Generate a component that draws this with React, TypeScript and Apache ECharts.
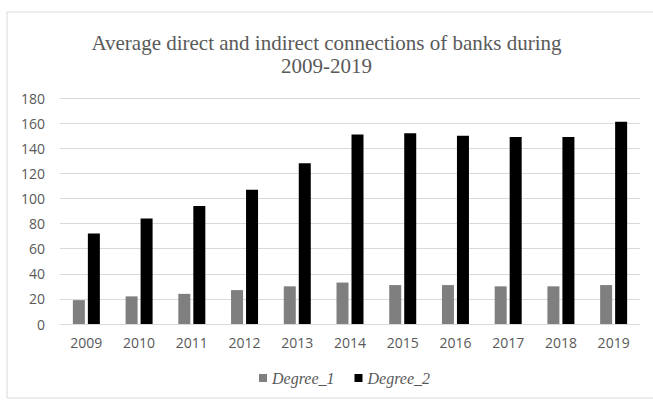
import React, { useEffect, useRef } from "react";
import * as echarts from "echarts";

const years = ["2009", "2010", "2011", "2012", "2013", "2014", "2015", "2016", "2017", "2018", "2019"];
const degree1 = [19, 22, 24, 27, 30, 33, 31, 31, 30, 30, 31];
const degree2 = [72, 84, 94, 107, 128, 151, 152, 150, 149, 149, 161];
const titleText = "Average direct and indirect connections of banks during\n2009-2019";

export default function App() {
  const ref = useRef<HTMLDivElement>(null);
  useEffect(() => {
    if (!ref.current) return;
    const chart = echarts.init(ref.current, null, { renderer: "svg" });
    const axisText = { color: "#595959", fontSize: 14, fontFamily: "Open Sans" };
    chart.setOption({
      animation: false,
      backgroundColor: "#ffffff",
      title: {
        text: titleText,
        left: "center",
        top: 26,
        textStyle: {
          fontFamily: "Liberation Serif",
          fontWeight: "normal",
          fontSize: 21,
          color: "#595959",
          lineHeight: 23,
        },
      },
      graphic: [
        {
          type: "rect",
          shape: { x: 7, y: 12, width: 680, height: 386 },
          style: { fill: "none", stroke: "#d9d9d9", lineWidth: 1 },
          silent: true,
        },
      ],
      legend: {
        bottom: 10,
        left: 254,
        icon: "rect",
        itemWidth: 8,
        itemHeight: 8,
        itemGap: 20,
        textStyle: {
          fontFamily: "Liberation Serif",
          fontStyle: "italic",
          fontSize: 16,
          color: "#595959",
        },
        data: ["Degree_1", "Degree_2"],
      },
      grid: { left: 60, right: 13, top: 98, bottom: 77 },
      xAxis: {
        type: "category",
        data: years,
        axisLine: { lineStyle: { color: "#d9d9d9" } },
        axisTick: { show: false },
        axisLabel: { ...axisText, margin: 11 },
      },
      yAxis: {
        type: "value",
        min: 0,
        max: 180,
        interval: 20,
        axisLine: { show: false },
        axisTick: { show: false },
        splitLine: { lineStyle: { color: "#d9d9d9" } },
        axisLabel: { ...axisText, margin: 15 },
      },
      series: [
        {
          name: "Degree_1",
          type: "bar",
          data: degree1,
          barWidth: 12,
          barGap: "25%",
          itemStyle: { color: "#7f7f7f" },
        },
        {
          name: "Degree_2",
          type: "bar",
          data: degree2,
          barWidth: 12,
          barGap: "25%",
          itemStyle: { color: "#000000" },
        },
      ],
    });
    return () => chart.dispose();
  }, []);
  return (
    <div
      ref={ref}
      style={{ position: "fixed", left: 0, top: 0, width: 653, height: 401 }}
    />
  );
}
